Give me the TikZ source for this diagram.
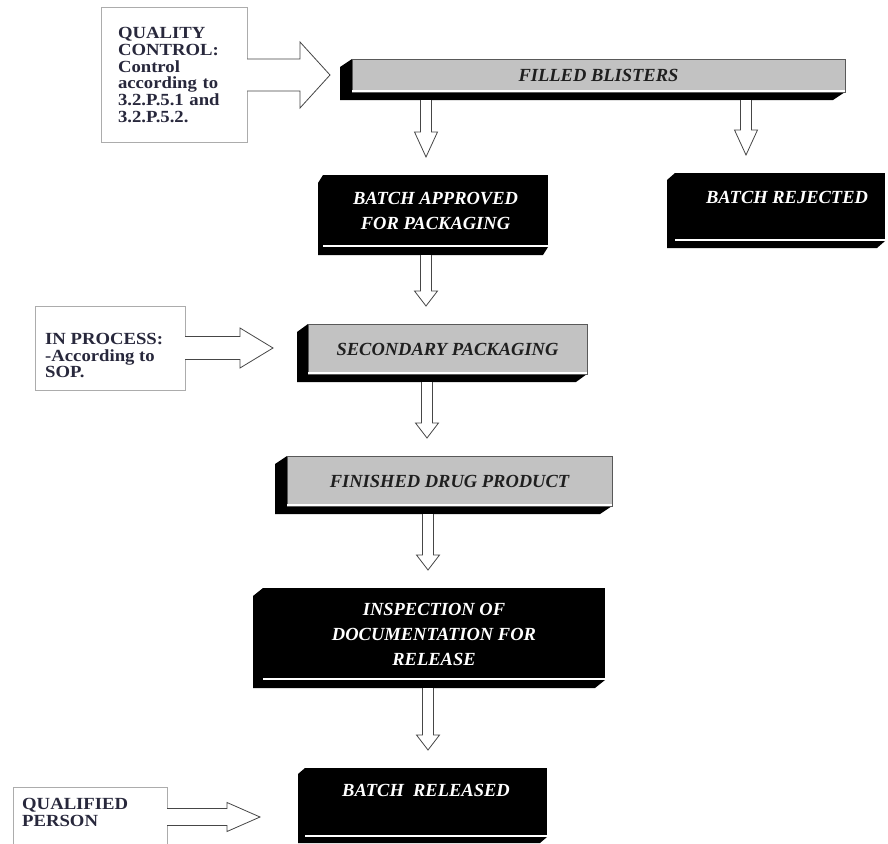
\documentclass[tikz,border=0pt]{standalone}
\usepackage{fontspec}
\setmainfont{Liberation Serif}
\newfontfamily\sidefamily{Liberation Serif}[FakeStretch=1.1]
\usetikzlibrary{calc,backgrounds}
\definecolor{sidetxt}{RGB}{40,40,60}
\newcommand\boxfont{\fontsize{18.5}{25}\selectfont\bfseries\itshape}
\newcommand\sidefnt{\sidefamily\fontsize{17}{16.7}\selectfont\bfseries}
\tikzset{
  front/.style={rectangle, inner sep=0pt, outer sep=0pt},
  graybox/.style={front, fill=gray!48, draw=gray!70!black, line width=0.6pt, text=black!88, font=\boxfont},
  blackbox/.style={front, fill=black, text=white, font=\boxfont, align=center},
  btext/.style={font=\boxfont, text=white, inner sep=0pt},
  sidebox/.style={rectangle, draw=gray!65, line width=1pt, fill=white, inner sep=0pt, outer sep=0pt, align=left, font=\sidefnt, text=sidetxt},
  sidetxt/.style={font=\sidefnt, text=sidetxt, align=left, inner sep=0pt},
  blockarrow/.style={draw=gray!55!black, fill=white, line width=0.8pt, line join=miter},
}
\newcommand\threed[3]{%
  \begin{pgfonlayer}{background}
    \fill[black] (#1.north west) -- ++(-#2,#3) |- ($(#1.south east)+(-#2,#3)$) -- (#1.south east) -- cycle;
  \end{pgfonlayer}
  \draw[white, line width=1.3pt] ($(#1.south west)+(0,-1)$) -- ($(#1.south east)+(0,-1)$);}
\newcommand\darrow[4]{%
  \draw[blockarrow] let \p1=(#2.south), \p2=(#3.north) in
    (#1pt-5.5pt,\y1-8pt) -- (#1pt-5.5pt,\y2+18pt+#4pt) -- (#1pt-11.5pt,\y2+18pt+#4pt) -- (#1pt,\y2+18pt)
    -- (#1pt+11.5pt,\y2+18pt+#4pt) -- (#1pt+5.5pt,\y2+18pt+#4pt) -- (#1pt+5.5pt,\y1-8pt);}
\newcommand\rarrow[6]{%
  \draw[blockarrow] let \p1=(#1.east), \p2=(#2.west) in
    (\x1,\y1+#3pt) -- (\x2-#6pt-#5pt,\y1+#3pt) -- (\x2-#6pt-#5pt,\y1+#4pt) -- (\x2-#6pt,\y1)
    -- (\x2-#6pt-#5pt,\y1-#4pt) -- (\x2-#6pt-#5pt,\y1-#3pt) -- (\x1,\y1-#3pt);}
\begin{document}
\begin{tikzpicture}[x=1pt,y=-1pt]
\useasboundingbox (0,0) rectangle (888,843);
\begin{pgfonlayer}{background}
  \fill[white] (0,0) rectangle (888,843);
\end{pgfonlayer}
\clip (0,0) rectangle (888,843);

% side boxes
\node[sidebox, minimum width=146pt, minimum height=134pt, text width=112pt] (qc) at (174,75)
  {QUALITY\\CONTROL:\\Control\\according to\\3.2.P.5.1 and\\3.2.P.5.2.};
\node[sidebox, minimum width=150pt, minimum height=84pt,
  label={[sidetxt, anchor=north west, xshift=10pt, yshift=-27pt]north west:{IN PROCESS:\\-According to\\SOP.}}] (ip) at (110,348) {};
\node[sidebox, minimum width=154pt, minimum height=60pt,
  label={[sidetxt, anchor=north west, xshift=9pt, yshift=-11pt]north west:{QUALIFIED\\PERSON}}] (qp) at (90,817) {};

% process boxes
\node[graybox, minimum width=493pt, minimum height=33pt] (fb) at (598.5,75.5) {FILLED BLISTERS};
\node[blackbox, minimum width=225pt, minimum height=72pt] (ba) at (435.5,211) {BATCH APPROVED\\FOR PACKAGING};
\node[blackbox, minimum width=210pt, minimum height=68pt,
  label={[btext, xshift=7pt, yshift=10pt]center:BATCH REJECTED}] (brj) at (780,207) {};
\node[graybox, minimum width=279pt, minimum height=50pt] (sp) at (447.5,349) {SECONDARY PACKAGING};
\node[graybox, minimum width=325pt, minimum height=50pt] (fdp) at (449.5,481) {FINISHED DRUG PRODUCT};
\node[blackbox, minimum width=342pt, minimum height=92pt] (insp) at (434,634) {INSPECTION OF\\DOCUMENTATION FOR\\RELEASE};
\node[blackbox, minimum width=242pt, minimum height=69pt,
  label={[btext, yshift=12pt]center:BATCH\ \ RELEASED}] (brel) at (426,802.5) {};

\threed{fb}{12}{8}
\threed{ba}{5}{8}
\threed{brj}{8}{7}
\threed{sp}{11}{8}
\threed{fdp}{12}{8}
\threed{insp}{10}{8}
\threed{brel}{7}{6}

% connectors
\darrow{426}{fb}{ba}{25}
\darrow{746}{fb}{brj}{25}
\darrow{426}{ba}{sp}{15}
\darrow{427}{sp}{fdp}{15}
\darrow{428}{fdp}{insp}{15}
\darrow{428}{insp}{brel}{15}

\rarrow{qc}{fb}{16}{33}{30}{22}
\rarrow{ip}{sp}{11.5}{20}{33}{35}
\rarrow{qp}{brel}{8.5}{14.5}{33}{45}
\end{tikzpicture}
\end{document}
